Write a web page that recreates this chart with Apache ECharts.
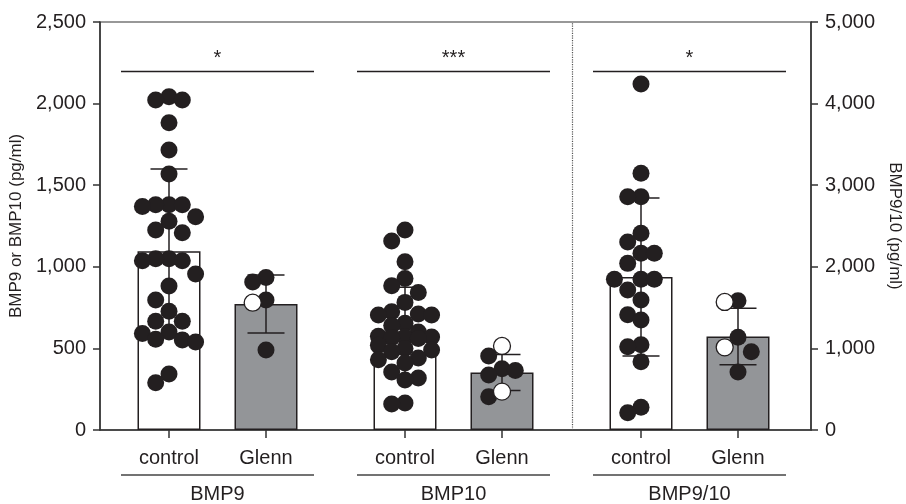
<!DOCTYPE html>
<html>
<head>
<meta charset="utf-8">
<script src="https://cdn.jsdelivr.net/npm/echarts@6/dist/echarts.min.js"></script>
<style>
  html, body { margin: 0; padding: 0; background: #fff; }
  #chart { width: 906px; height: 504px; }
</style>
</head>
<body>
<div id="chart"></div>
<script>
// groups and conditions
const groups = ["BMP9", "BMP10", "BMP9/10"];
const conditions = ["control", "Glenn"];
const sigLabels = ["*", "***", "*"];

// bar heights (mean) and error (SD), order: BMP9 ctrl, BMP9 Glenn, BMP10 ctrl, BMP10 Glenn, BMP9/10 ctrl, BMP9/10 Glenn
const barMeans = [1095, 772, 605, 352, 1875, 1145];
const barSD = [505, 178, 270, 110, 968, 346];

// individual values (pg/ml)
const bmp9Control = [2042, 2022, 2022, 1883, 1716, 1569, 1380, 1380, 1370, 1380, 1307, 1279, 1225, 1209,
    1050, 1050, 1037, 1037, 956, 882, 797, 727, 666, 666, 600, 592, 556, 551, 539, 343, 290];
const bmp9GlennFilled = [935, 907, 797, 490];
const bmp9GlennOpen = [780];
const bmp10Control = [1225, 1158, 1031, 929, 884, 843, 782, 725, 711, 705, 705, 654, 640, 600, 575, 570,
    570, 565, 560, 520, 500, 490, 480, 441, 430, 410, 355, 318, 306, 165, 160];
const bmp10GlennFilled = [453, 376, 364, 337, 204];
const bmp10GlennOpen = [515, 235];
const bmp910Control = [4240, 3146, 2859, 2859, 2410, 2304, 2165, 2165, 2042, 1847, 1847, 1847, 1716, 1593,
    1413, 1348, 1045, 1021, 837, 278, 212];
const bmp910GlennFilled = [1585, 1136, 960, 711];
const bmp910GlennOpen = [1569, 1013];

const sigLevel = 2200;

// layout (x axis runs 0..711)
const groupCenters = [117.5, 353.5, 589.5];
const pairHalf = 48.5;
const bracketHalf = 96.5;
const dividerX = 472;
const barX = [];
groupCenters.forEach(c => { barX.push(c - pairHalf, c + pairHalf); });

const FONT = "Liberation Sans";
const INK = "#231f20";
const GLENN_GRAY = "#939598";

const chart = echarts.init(document.getElementById("chart"));

const fmt = v => v.toLocaleString("en-US");
const barItem = (i) => ({
    value: [barX[i], barMeans[i]],
    itemStyle: { color: i % 2 ? GLENN_GRAY : "#fff", borderColor: INK, borderWidth: 1.5 }
});

const errorSeries = (idxs, yAxisIndex) => ({
    type: "custom",
    yAxisIndex: yAxisIndex,
    z: 3,
    data: idxs.map(i => [barX[i], barMeans[i], barSD[i]]),
    renderItem: (params, api) => {
        const x = api.value(0), m = api.value(1), sd = api.value(2);
        const top = api.coord([x, m + sd]);
        const bot = api.coord([x, m - sd]);
        const cap = 18.5;
        const st = { stroke: INK, lineWidth: 1.5 };
        return {
            type: "group",
            children: [
                { type: "line", shape: { x1: top[0], y1: top[1], x2: bot[0], y2: bot[1] }, style: st },
                { type: "line", shape: { x1: top[0] - cap, y1: top[1], x2: top[0] + cap, y2: top[1] }, style: st },
                { type: "line", shape: { x1: bot[0] - cap, y1: bot[1], x2: bot[0] + cap, y2: bot[1] }, style: st }
            ]
        };
    }
});

const axisLineStyle = { color: "#333", width: 1.5 };

const baseSeries = [
    {
        type: "bar",
        yAxisIndex: 0,
        barWidth: 63,
        barGap: "-100%",
        z: 2,
        data: [0, 1, 2, 3].map(barItem),
        markLine: {
            silent: true,
            symbol: "none",
            animation: false,
            data: [
                ...groupCenters.map((c, g) => [
                    { coord: [c - bracketHalf, sigLevel], name: sigLabels[g] },
                    { coord: [c + bracketHalf, sigLevel] }
                ]),
                { xAxis: dividerX, lineStyle: { type: "dotted", color: "#555", width: 1.2 }, label: { show: false } }
            ],
            lineStyle: { color: INK, width: 1.3, type: "solid" },
            label: {
                show: true, position: "middle", formatter: p => p.name, distance: 2,
                fontFamily: FONT, fontSize: 20, color: INK
            }
        }
    },
    {
        type: "bar",
        yAxisIndex: 1,
        barWidth: 63,
        barGap: "-100%",
        z: 2,
        data: [4, 5].map(barItem)
    },
    errorSeries([0, 1, 2, 3], 0),
    errorSeries([4, 5], 1)
];

chart.setOption({
    animation: false,
    grid: {
        left: 100, right: 95, top: 22, bottom: 74,
        outerBoundsMode: "none", containLabel: false,
        show: true, borderColor: "#333", borderWidth: 1.2
    },
    xAxis: {
        type: "value",
        min: 0,
        max: 711,
        splitLine: { show: false },
        axisLine: { lineStyle: axisLineStyle },
        axisTick: { customValues: barX, length: 8, lineStyle: axisLineStyle },
        axisLabel: {
            customValues: barX,
            margin: 18,
            fontFamily: FONT, fontSize: 20, color: INK,
            formatter: v => {
                const i = barX.findIndex(b => Math.abs(b - v) < 0.5);
                return i < 0 ? "" : conditions[i % 2];
            }
        }
    },
    yAxis: [
        {
            type: "value", min: 0, max: 2500, interval: 500,
            name: "BMP9 or BMP10 (pg/ml)", nameLocation: "middle", nameGap: 67,
            nameTextStyle: { fontFamily: FONT, fontSize: 17, color: INK },
            splitLine: { show: false },
            axisLine: { show: true, lineStyle: axisLineStyle },
            axisTick: { show: true, length: 7, lineStyle: axisLineStyle },
            axisLabel: { margin: 14, fontFamily: FONT, fontSize: 20, color: INK, formatter: fmt }
        },
        {
            type: "value", min: 0, max: 5000, interval: 1000, position: "right",
            name: "BMP9/10 (pg/ml)", nameLocation: "middle", nameGap: 74, nameRotate: -90,
            nameTextStyle: { fontFamily: FONT, fontSize: 17, color: INK },
            splitLine: { show: false },
            axisLine: { show: true, lineStyle: axisLineStyle },
            axisTick: { show: true, length: 7, lineStyle: axisLineStyle },
            axisLabel: { margin: 14, fontFamily: FONT, fontSize: 20, color: INK, formatter: fmt }
        }
    ],
    series: baseSeries
});

// beeswarm placement using the axis scales
const pxPerUnit = chart.convertToPixel({ xAxisIndex: 0 }, 1) - chart.convertToPixel({ xAxisIndex: 0 }, 0);
const slotPx = 13.3;
const slotOrder = [0, -1, 1, -2, 2];

function swarm(filled, open, center, yAxisIndex) {
    const pts = filled.map(v => ({ v, open: false })).concat(open.map(v => ({ v, open: true })));
    pts.sort((a, b) => b.v - a.v);
    const placed = [];
    pts.forEach(p => {
        const py = chart.convertToPixel({ yAxisIndex }, p.v);
        let best = 0, bestGap = -1;
        for (const k of slotOrder) {
            let gap = Infinity;
            placed.forEach(q => { if (q.slot === k) gap = Math.min(gap, Math.abs(q.py - py)); });
            if (gap >= 16) { best = k; bestGap = gap; break; }
            if (gap > bestGap) { bestGap = gap; best = k; }
        }
        placed.push({ slot: best, py });
        p.x = center + best * slotPx / pxPerUnit;
    });
    return pts;
}

const columns = [
    [bmp9Control, [], 0, 0],
    [bmp9GlennFilled, bmp9GlennOpen, 1, 0],
    [bmp10Control, [], 2, 0],
    [bmp10GlennFilled, bmp10GlennOpen, 3, 0],
    [bmp910Control, [], 4, 1],
    [bmp910GlennFilled, bmp910GlennOpen, 5, 1]
];

const dots = { filled: [[], []], open: [[], []] };
columns.forEach(([f, o, i, ax]) => {
    swarm(f, o, barX[i], ax).forEach(p => {
        (p.open ? dots.open : dots.filled)[ax].push([p.x, p.v]);
    });
});

const scatter = (data, ax, open) => ({
    type: "scatter",
    yAxisIndex: ax,
    symbol: "circle",
    symbolSize: 17,
    z: 5,
    data: data,
    itemStyle: open
        ? { color: "#fff", borderColor: INK, borderWidth: 1.3, opacity: 1 }
        : { color: INK, opacity: 1 }
});

// group underlines and names below the axis
const graphic = [];
const lineY = 475, nameY = 494;
groupCenters.forEach((c, g) => {
    const x1 = chart.convertToPixel({ xAxisIndex: 0 }, c - bracketHalf);
    const x2 = chart.convertToPixel({ xAxisIndex: 0 }, c + bracketHalf);
    graphic.push({ type: "line", shape: { x1, y1: lineY, x2, y2: lineY }, style: { stroke: "#444", lineWidth: 1.5 } });
    graphic.push({
        type: "text", x: (x1 + x2) / 2, y: nameY,
        style: { text: groups[g], fontFamily: FONT, fontSize: 20, fill: INK, align: "center", verticalAlign: "middle" }
    });
});

chart.setOption({
    series: baseSeries.concat([
        scatter(dots.filled[0], 0, false),
        scatter(dots.filled[1], 1, false),
        scatter(dots.open[0], 0, true),
        scatter(dots.open[1], 1, true)
    ]),
    graphic: graphic
});
</script>
</body>
</html>
